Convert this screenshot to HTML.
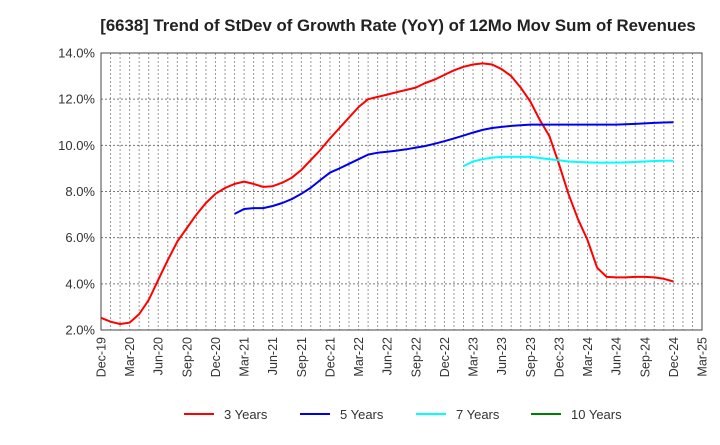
<!DOCTYPE html>
<html><head><meta charset="utf-8"><style>
body{margin:0;background:#fff;font-family:"Liberation Sans",Arial,sans-serif}
svg text{font-family:"Liberation Sans",Arial,sans-serif}
</style></head><body>
<svg id="c" width="720" height="440" viewBox="0 0 720 440">
<text x="398" y="31" text-anchor="middle" font-size="16.8" font-weight="bold" fill="#222">[6638]  Trend of StDev of Growth Rate (YoY) of 12Mo Mov Sum of Revenues</text>
<g id="grid"></g><g id="axes"></g><g id="series"></g><g id="legend"></g>
</svg>
<script>
const xTickLabels=["Dec-19","Mar-20","Jun-20","Sep-20","Dec-20","Mar-21","Jun-21","Sep-21","Dec-21","Mar-22","Jun-22","Sep-22","Dec-22","Mar-23","Jun-23","Sep-23","Dec-23","Mar-24","Jun-24","Sep-24","Dec-24","Mar-25"];
const yTicks=[2,4,6,8,10,12,14];
const s3=[2.53,2.36,2.26,2.32,2.69,3.3,4.17,5.03,5.83,6.42,7.0,7.5,7.9,8.15,8.33,8.43,8.33,8.2,8.23,8.38,8.6,8.93,9.37,9.8,10.3,10.75,11.2,11.66,12.0,12.1,12.2,12.3,12.4,12.5,12.7,12.85,13.05,13.25,13.4,13.5,13.55,13.5,13.3,13.0,12.5,11.9,11.1,10.4,9.2,7.9,6.8,5.9,4.7,4.3,4.28,4.28,4.3,4.3,4.28,4.22,4.1];
const s5=[null,null,null,null,null,null,null,null,null,null,null,null,null,null,7.03,7.24,7.28,7.28,7.37,7.5,7.67,7.9,8.17,8.5,8.82,9.0,9.2,9.4,9.6,9.68,9.72,9.77,9.83,9.9,9.97,10.07,10.18,10.3,10.42,10.55,10.67,10.75,10.8,10.84,10.87,10.9,10.9,10.9,10.9,10.9,10.9,10.9,10.9,10.9,10.9,10.91,10.93,10.95,10.97,10.99,11.0];
const s7=[null,null,null,null,null,null,null,null,null,null,null,null,null,null,null,null,null,null,null,null,null,null,null,null,null,null,null,null,null,null,null,null,null,null,null,null,null,null,9.1,9.3,9.4,9.47,9.5,9.5,9.5,9.5,9.45,9.4,9.35,9.3,9.28,9.26,9.25,9.25,9.25,9.26,9.28,9.3,9.32,9.33,9.33];
const s10=[];
const L=101,R=702,T=53,B=330;
const NS="http://www.w3.org/2000/svg";
function X(i){return L+(R-L)*i/63;}
function Y(v){return B-(v-2)*(B-T)/12;}
function mk(t,a,p){const e=document.createElementNS(NS,t);for(const k in a)e.setAttribute(k,a[k]);p.appendChild(e);return e;}
const g=document.getElementById('grid'),ax=document.getElementById('axes'),se=document.getElementById('series'),lg=document.getElementById('legend');
for(let m=1;m<63;m++){const l=mk('line',{x1:X(m),x2:X(m),y1:T,y2:B,stroke:'#999','stroke-dasharray':'2,2','stroke-width':1},g);

}
yTicks.forEach(v=>{if(v>2&&v<14){const l=mk('line',{x1:L,x2:R,y1:Y(v),y2:Y(v),stroke:'#777','stroke-dasharray':'2,2','stroke-width':1},g);

}
const t=mk('text',{x:L-6,y:Y(v)+4.5,'text-anchor':'end','font-size':13,fill:'#333'},ax);t.textContent=v.toFixed(1)+'%';

});
const fr=mk('rect',{x:L,y:T,width:R-L,height:B-T,fill:'none',stroke:'#444','stroke-width':1},ax);


xTickLabels.forEach((s,k)=>{const x=X(k*3);const t=mk('text',{x:0,y:0,'text-anchor':'end','font-size':12.5,fill:'#333',transform:`translate(${x+4.5},${B+7}) rotate(-90)`},ax);t.textContent=s;

});
function draw(arr,col,name){let d='',pen=false;arr.forEach((v,i)=>{if(v==null){pen=false;return;}d+=(pen?'L':'M')+X(i).toFixed(1)+','+Y(v).toFixed(1);pen=true;});
if(!d)return;const p=mk('path',{d:d,fill:'none',stroke:col,'stroke-width':2,'stroke-linejoin':'round'},se);

}
draw(s3,'#ff0000','line-3-years');draw(s5,'#0000ee','line-5-years');draw(s7,'#00ffff','line-7-years');draw(s10,'#008000','line-10-years');
const leg=[['3 Years','#ff0000',184],['5 Years','#0000ee',300],['7 Years','#00ffff',416],['10 Years','#008000',531]];
leg.forEach(([n,c,x])=>{const gg=mk('g',{},lg);

mk('line',{x1:x,x2:x+30,y1:414,y2:414,stroke:c,'stroke-width':2},gg);
const t=mk('text',{x:x+40,y:419,'font-size':13,fill:'#333'},gg);t.textContent=n;});
</script>
</body></html>
